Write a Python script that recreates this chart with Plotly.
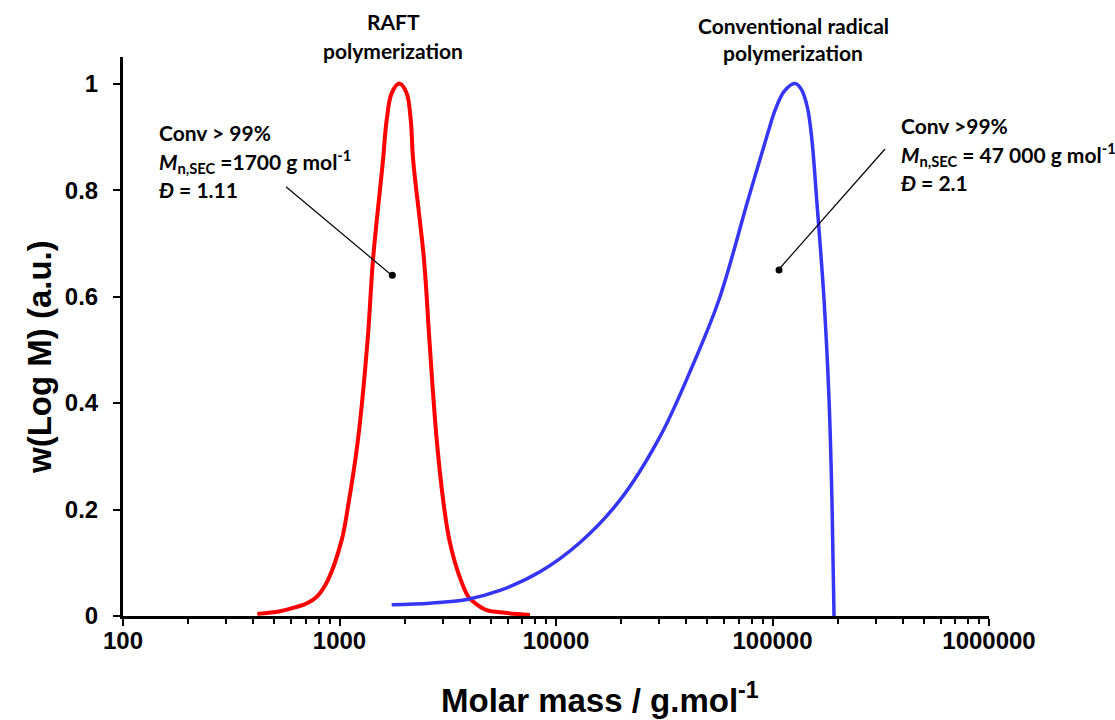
import plotly.graph_objects as go

# ---- data ----
raft_M = [417, 531, 634, 708, 785, 885, 1024, 1094, 1217, 1349, 1428, 1589, 1652, 1742, 1888,
          2042, 2133, 2188, 2457, 2601, 2812, 3040, 3216, 3537, 3937, 4266, 4786, 5808, 7586]
raft_w = [0.004, 0.009, 0.017, 0.024, 0.036, 0.068, 0.143, 0.205, 0.331, 0.519, 0.669, 0.857,
          0.932, 0.982, 1.0,
          0.982, 0.932, 0.857, 0.669, 0.519, 0.331, 0.205, 0.143, 0.081, 0.036, 0.023, 0.011,
          0.006, 0.002]

conv_M = [1742, 2618, 3873, 5508, 8433, 12910, 19770, 30230, 41590, 56600, 77100, 95300,
          103000, 113000, 127000, 136000, 145000, 152000, 160000, 173000, 182500, 188200, 192400]
conv_w = [0.021, 0.024, 0.031, 0.048, 0.083, 0.138, 0.218, 0.337, 0.459, 0.594, 0.782, 0.908,
          0.951, 0.985, 1.0, 0.989, 0.955, 0.895, 0.782, 0.594, 0.406, 0.218, 0.0]

x_tickvals = [100, 1000, 10000, 100000, 1000000]
x_ticktext = ["100", "1000", "10000", "100000", "1000000"]
y_tickvals = [0, 0.2, 0.4, 0.6, 0.8, 1]
y_ticktext = ["0", "0.2", "0.4", "0.6", "0.8", "1"]

# pointer dots (data coordinates)
raft_dot = (1754, 0.640)
conv_dot = (107200, 0.650)

minor_vals = [m * d for d in [100, 1000, 10000, 100000] for m in range(2, 10)]

W, H = 1115, 720
L, R, T, B = 123, 126, 57, 104
PW, PH = W - L - R, H - T - B


def px(x):
    return (x - L) / PW


def py(y):
    return (H - B - y) / PH


fig = go.Figure()
fig.add_trace(go.Scatter(x=raft_M, y=raft_w, mode="lines",
                         line=dict(color="#FF0000", width=4, shape="spline", smoothing=1.0),
                         hoverinfo="skip"))
fig.add_trace(go.Scatter(x=conv_M, y=conv_w, mode="lines",
                         line=dict(color="#3535F5", width=3.5, shape="spline", smoothing=1.0),
                         hoverinfo="skip"))
fig.add_trace(go.Scatter(x=[raft_dot[0], conv_dot[0]], y=[raft_dot[1], conv_dot[1]],
                         mode="markers", marker=dict(color="black", size=7),
                         hoverinfo="skip"))

# leader lines
fig.add_shape(type="line", xref="paper", yref="paper",
              x0=px(286), y0=py(186.7), x1=px(392.3), y1=py(275.7),
              line=dict(color="black", width=1.2))
fig.add_shape(type="line", xref="paper", yref="paper",
              x0=px(885), y0=py(149), x1=px(778.3), y1=py(270),
              line=dict(color="black", width=1.2))

ann_font = dict(family="Lato", size=21, color="black")


def text(x, y, s, anchor="left", font=ann_font, angle=0):
    fig.add_annotation(xref="paper", yref="paper", x=px(x), y=py(y), text=s,
                       showarrow=False, xanchor=anchor, yanchor="middle",
                       font=font, textangle=angle)


# titles above the peaks
text(393, 22, "<b>RAFT</b>", "center")
text(393, 50, "<b>polymerization</b>", "center")
text(793, 25, "<b>Conventional radical</b>", "center")
text(793, 53, "<b>polymerization</b>", "center")

# left annotation
text(157, 132, "<b>Conv > 99%</b>")
text(157, 161, "<b><i>M</i><sub>n,SEC</sub> =1700 g mol<sup>-1</sup></b>")
text(157, 189, "<b><i>Đ</i> = 1.11</b>")

# right annotation
text(899, 125, "<b>Conv >99%</b>")
text(899, 154, "<b><i>M</i><sub>n,SEC</sub> = 47 000 g mol<sup>-1</sup></b>")
text(899, 182, "<b><i>Đ</i> = 2.1</b>")

axis_font = dict(family="Arial", size=24, color="black")
title_font = dict(family="Arial", size=33, color="black")

# axis titles (placed as in the reference, off-centre)
text(600, 698, "<b>Molar mass / g.mol<sup>-1</sup></b>", "center", title_font)
text(39, 357, "<b>w(Log M) (a.u.)</b>", "center", title_font, angle=-90)

fig.update_layout(
    width=W, height=H,
    margin=dict(l=L, r=R, t=T, b=B, pad=0),
    paper_bgcolor="white", plot_bgcolor="white",
    showlegend=False,
    xaxis=dict(type="log", range=[2, 6], tickmode="array",
               tickvals=x_tickvals, ticktext=[f"<b>{t}</b>" for t in x_ticktext],
               ticks="outside", ticklen=7, tickwidth=2, tickcolor="black",
               minor=dict(tickmode="array", tickvals=minor_vals, ticks="outside",
                          ticklen=5, tickwidth=2, tickcolor="black", showgrid=False),
               showline=True, linewidth=3, linecolor="black",
               showgrid=False, zeroline=False, tickfont=axis_font,
               ticklabelstandoff=-6),
    yaxis=dict(range=[0, 1.05], tickmode="array", tickvals=y_tickvals,
               ticktext=[f"<b>{t}</b>" for t in y_ticktext],
               ticks="outside", ticklen=7, tickwidth=2, tickcolor="black",
               showline=True, linewidth=3, linecolor="black",
               showgrid=False, zeroline=False, tickfont=axis_font,
               ticklabelstandoff=10),
)

fig.write_html("out.html")
